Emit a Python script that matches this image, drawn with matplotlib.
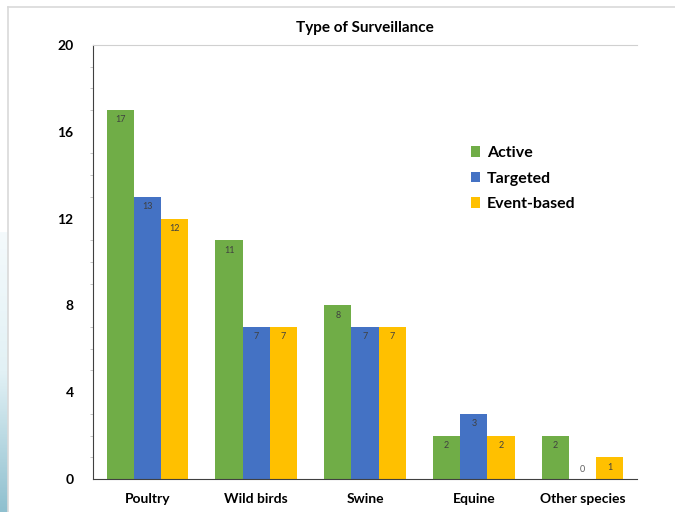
import matplotlib.pyplot as plt
import numpy as np

categories = ["Poultry", "Wild birds", "Swine", "Equine", "Other species"]
active = [17, 11, 8, 2, 2]
targeted = [13, 7, 7, 3, 0]
event_based = [12, 7, 7, 2, 1]

series = ["Active", "Targeted", "Event-based"]
colors = ["#70AD47", "#4472C4", "#FFC000"]
y_ticks = [0, 4, 8, 12, 16, 20]

plt.rcParams['font.family'] = ['Lato', 'DejaVu Sans']

fig = plt.figure(figsize=(6.75, 5.12), dpi=100)

# slide background: pale blue strip on the left, thin gray frame
bg = fig.add_axes([0, 0, 1, 1], zorder=-5)
bg.set_xlim(0, 675)
bg.set_ylim(512, 0)
bg.axis("off")
grad = np.linspace(1, 0, 100).reshape(-1, 1)
side = plt.matplotlib.colors.LinearSegmentedColormap.from_list(
    "side", ["#f4fafc", "#e2f1f5", "#8fc0cf"])
bg.imshow(grad, extent=[0, 8, 232, 512], cmap=side, aspect="auto")
bg.plot([8, 8], [7, 512], color="#d9d9d9", lw=1.2)
bg.plot([8, 675], [7, 7], color="#d9d9d9", lw=1.2)

ax = fig.add_axes([0.1378, 0.0645, 0.806, 0.8477])
x = np.arange(len(categories))
w = 0.25
for i, (name, vals, col) in enumerate(zip(series, [active, targeted, event_based], colors)):
    pos = x + (i - 1) * w
    ax.bar(pos, vals, width=w, color=col, label=name, zorder=2)
    for px, v in zip(pos, vals):
        ax.text(px, v - 0.25 if v > 0 else 0.25, str(v), ha="center", va="top" if v > 0 else "bottom",
                fontsize=6.5, color="#404040" if v > 0 else "#606060")

ax.set_xlim(-0.5, len(categories) - 0.5)
ax.set_ylim(0, 20)
ax.set_yticks(y_ticks)
ax.set_yticks(np.arange(0, 21, 1), minor=True)
ax.set_xticks(x)
ax.set_xticklabels(categories, fontsize=10, fontweight="bold")
ax.tick_params(axis="y", labelsize=10, length=0, pad=14)
ax.tick_params(axis="y", which="minor", length=2, color="#bbbbbb")
for lbl in ax.get_yticklabels():
    lbl.set_fontweight("bold")
ax.tick_params(axis="x", length=0, pad=10)

ax.spines["right"].set_visible(False)
ax.spines["top"].set_color("#d0d0d0")
ax.spines["left"].set_color("#404040")
ax.spines["bottom"].set_color("#404040")

ax.set_title("Type of Surveillance", fontsize=11, fontweight="bold", pad=9)

ax.legend(loc="upper left", bbox_to_anchor=(0.668, 0.80), frameon=False,
          prop={"weight": "bold", "size": 11.5}, handlelength=0.6, handleheight=0.6,
          handletextpad=0.4, labelspacing=0.72)

fig.savefig("out.png", dpi=100)
